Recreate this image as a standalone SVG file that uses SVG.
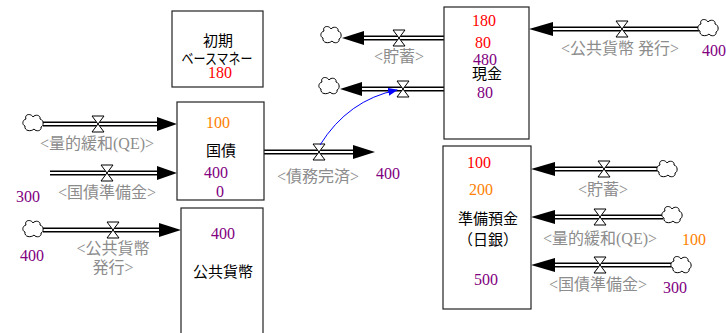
<svg xmlns="http://www.w3.org/2000/svg" xmlns:xlink="http://www.w3.org/1999/xlink" width="726" height="333" viewBox="0 0 726 333">
<style>
.box{fill:#fff;stroke:#222;stroke-width:1.2}
.po{fill:none;stroke:#000;stroke-width:5}
.pi{fill:none;stroke:#fff;stroke-width:2}
.ah{fill:#000}
.lab{font-family:"Liberation Serif","Noto Sans CJK JP",serif;font-size:16px;fill:#8c8c8c;text-anchor:middle}
.jp{font-family:"Noto Sans CJK JP",sans-serif;font-size:15px;fill:#000;text-anchor:middle}
.num{font-family:"Liberation Serif",serif;font-size:16px;text-anchor:middle}
.red{fill:#ff0000}.org{fill:#ff8000}.pur{fill:#800080}
</style>
<defs>
<path id="cloud" d="M-7,-4 C-9,-9 -2,-10 0,-6 C2,-9 8,-8 7,-4 C11,-3 11,3 8,4 C9,8 3,9 1,6 C-2,9 -9,8 -8,3 C-11,2 -11,-3 -7,-4 Z" fill="#fff" stroke="#000" stroke-width="1"/>
<path id="valve" d="M-6,-8 L6,-8 L-6,8 L6,8 Z" fill="#fff" stroke="#000" stroke-width="1"/>
<marker id="blueArrow" markerWidth="10" markerHeight="8" refX="9" refY="4" orient="auto" markerUnits="userSpaceOnUse">
<path d="M0,0 L10,4 L0,8 Z" fill="#0000ff"/>
</marker>
</defs>

<g id="connectors">
<!-- QE -> 国債 -->
<path class="po" d="M43,124 H158"/><path class="pi" d="M43,124 H159"/>
<path class="ah" d="M157,117 L177,124 L157,131 Z"/>
<use xlink:href="#cloud" x="33" y="123"/><use xlink:href="#valve" x="98" y="124"/>
<text class="lab" x="97" y="149">&lt;量的緩和(QE)&gt;</text>
<!-- 国債準備金 -> 国債 -->
<path class="po" d="M50,173 H158"/><path class="pi" d="M50,173 H159"/>
<path class="ah" d="M157,166 L177,173 L157,180 Z"/>
<use xlink:href="#valve" x="107" y="173"/>
<text class="lab" x="107" y="198">&lt;国債準備金&gt;</text>
<!-- 公共貨幣発行 -> 公共貨幣 -->
<path class="po" d="M43,230 H160"/><path class="pi" d="M43,230 H161"/>
<path class="ah" d="M159,223 L181,230 L159,237 Z"/>
<use xlink:href="#cloud" x="33" y="229"/><use xlink:href="#valve" x="113" y="230"/>
<text class="lab" x="113" y="254">&lt;公共貨幣</text>
<text class="lab" x="113" y="273">発行&gt;</text>
<!-- 債務完済 -->
<path class="po" d="M264,152 H355"/><path class="pi" d="M264,152 H356"/>
<path class="ah" d="M353,145 L375,152 L353,159 Z"/>
<use xlink:href="#valve" x="319" y="152"/>
<text class="lab" x="318" y="182">&lt;債務完済&gt;</text>
<!-- 現金 -> 貯蓄 -->
<path class="po" d="M362,38 H444"/><path class="pi" d="M361,38 H444"/>
<path class="ah" d="M364,31 L342,38 L364,45 Z"/>
<use xlink:href="#cloud" x="331" y="35"/><use xlink:href="#valve" x="399" y="38"/>
<text class="lab" x="399" y="62">&lt;貯蓄&gt;</text>
<!-- 現金 -> second outflow -->
<path class="po" d="M360,89 H444"/><path class="pi" d="M359,89 H444"/>
<path class="ah" d="M362,82 L340,89 L362,96 Z"/>
<use xlink:href="#cloud" x="329" y="86"/><use xlink:href="#valve" x="403" y="89"/>
<!-- 公共貨幣 発行 -> 現金 -->
<path class="po" d="M551,29 H699"/><path class="pi" d="M550,29 H699"/>
<path class="ah" d="M553,22 L529,29 L553,36 Z"/>
<use xlink:href="#cloud" x="708" y="28"/><use xlink:href="#valve" x="622" y="29"/>
<text class="lab" x="620" y="54">&lt;公共貨幣 発行&gt;</text>
<!-- 貯蓄 -> 準備預金 -->
<path class="po" d="M553,169 H658"/><path class="pi" d="M552,169 H658"/>
<path class="ah" d="M555,162 L531,169 L555,176 Z"/>
<use xlink:href="#cloud" x="667" y="169"/><use xlink:href="#valve" x="604" y="169"/>
<text class="lab" x="603" y="195">&lt;貯蓄&gt;</text>
<!-- QE -> 準備預金 -->
<path class="po" d="M553,217 H663"/><path class="pi" d="M552,217 H663"/>
<path class="ah" d="M555,210 L531,217 L555,224 Z"/>
<use xlink:href="#cloud" x="672" y="215"/><use xlink:href="#valve" x="600" y="217"/>
<text class="lab" x="600" y="244">&lt;量的緩和(QE)&gt;</text>
<!-- 国債準備金 -> 準備預金 -->
<path class="po" d="M553,265 H672"/><path class="pi" d="M552,265 H672"/>
<path class="ah" d="M555,258 L531,265 L555,272 Z"/>
<use xlink:href="#cloud" x="681" y="265"/><use xlink:href="#valve" x="600" y="265"/>
<text class="lab" x="598" y="290">&lt;国債準備金&gt;</text>
<!-- blue link -->
<path d="M320,145 Q348,100 397,90" fill="none" stroke="#0000ff" stroke-width="1" marker-end="url(#blueArrow)"/>
<!-- flow values -->
<text class="num pur" x="28" y="202">300</text>
<text class="num pur" x="32" y="261">400</text>
<text class="num pur" x="388" y="179">400</text>
<text class="num pur" x="714" y="56">400</text>
<text class="num org" x="694" y="245">100</text>
<text class="num pur" x="675" y="293">300</text>
</g>

<g id="node-initial-base-money">
<rect class="box" x="172" y="11" width="91" height="76"/>
<text class="jp" x="218" y="46">初期</text>
<text class="jp" x="217" y="64" textLength="71" lengthAdjust="spacingAndGlyphs">ベースマネー</text>
<text class="num red" x="220" y="78">180</text>
</g>

<g id="node-kokusai">
<rect class="box" x="177" y="102" width="87" height="98"/>
<text class="num org" x="218" y="128">100</text>
<text class="jp" x="221" y="156">国債</text>
<text class="num pur" x="216" y="178">400</text>
<text class="num pur" x="220" y="197">0</text>
</g>

<g id="node-public-currency">
<rect class="box" x="181" y="208" width="82" height="140"/>
<text class="num pur" x="223" y="239">400</text>
<text class="jp" x="223" y="277">公共貨幣</text>
</g>

<g id="node-cash">
<rect class="box" x="444" y="7" width="85" height="132"/>
<text class="num red" x="484" y="26">180</text>
<text class="num red" x="483" y="48">80</text>
<text class="num pur" x="485" y="65">480</text>
<text class="jp" x="487" y="79">現金</text>
<text class="num pur" x="485" y="98">80</text>
</g>

<g id="node-reserves">
<rect class="box" x="443" y="146" width="88" height="163"/>
<text class="num red" x="479" y="168">100</text>
<text class="num org" x="481" y="195">200</text>
<text class="jp" x="488" y="224">準備預金</text>
<text class="jp" x="488" y="245">（日銀）</text>
<text class="num pur" x="486" y="285">500</text>
</g>
</svg>
